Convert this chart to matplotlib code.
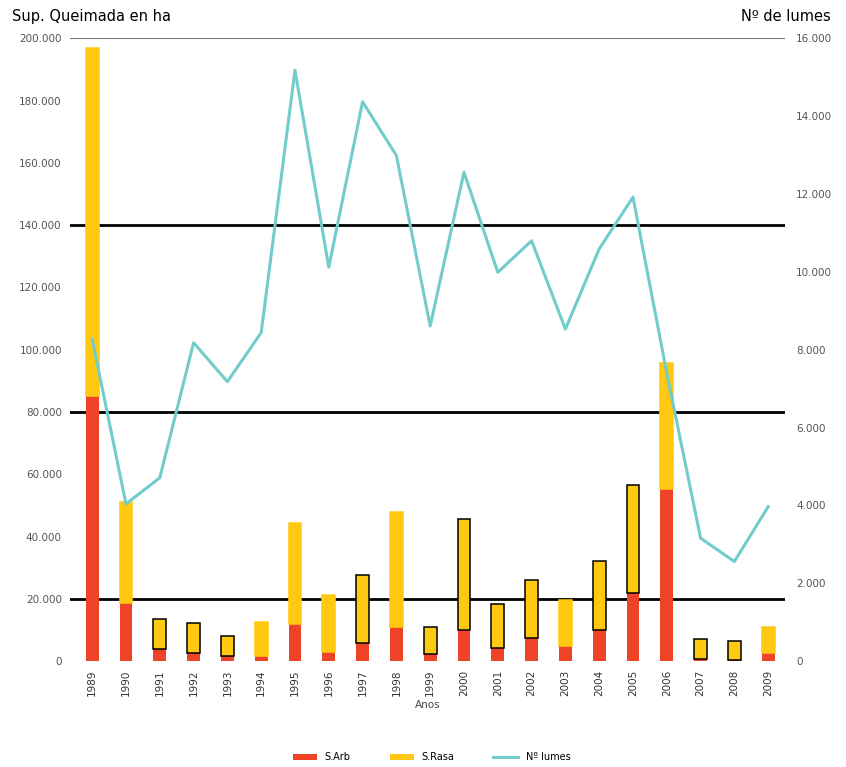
#! /usr/bin/env python3
# -*- coding: utf-8 -*-

## Modules

import matplotlib
matplotlib.use("Agg")
import matplotlib.pyplot as plt
from matplotlib.ticker import FuncFormatter

## Data

years = [str(y) for y in range(1989, 2010)]

# superficie queimada (ha)
sup_arb = [85000, 18600, 4000, 2500, 1600, 1600, 11800, 3100, 5800, 11000, 2300,
           10100, 4100, 7500, 5000, 10100, 22000, 55200, 800, 500, 2700]
sup_total = [197000, 51000, 13400, 12400, 8200, 12500, 44400, 21200, 27800, 47800, 10900,
             45700, 18300, 26100, 19700, 32100, 56700, 95800, 7200, 6400, 11000]
sup_rasa = [t - a for t, a in zip(sup_total, sup_arb)]

# numero de lumes
lumes = [8270, 4040, 4710, 8180, 7180, 8440, 15180, 10120, 14370, 12990, 8610,
         12560, 9990, 10800, 8530, 10590, 11920, 7400, 3160, 2560, 3970]

# barras con bordo negro no orixinal
outlined = ["1991", "1992", "1993", "1997", "1999", "2000", "2001", "2002",
            "2004", "2005", "2007", "2008"]

left_ticks = list(range(0, 200001, 20000))
right_ticks = list(range(0, 16001, 2000))
grid_lines = [20000, 80000, 140000]

RED = "#EE4326"
YELLOW = "#FFC912"
TEAL = "#72CCCC"


def miles(v, pos=None):
    return "{:,.0f}".format(v).replace(",", ".")


## Main

def main():
    fig = plt.figure(figsize=(8.46, 7.67), dpi=100)
    ax = fig.add_axes([0.083, 0.138, 0.845, 0.812])
    ax2 = ax.twinx()

    x = list(range(len(years)))
    w = 0.38

    for g in grid_lines:
        ax.axhline(g, color="black", lw=2, zorder=1)
    ax.axhline(200000, color="#777777", lw=1.5, zorder=1)

    ax.bar(x, sup_arb, width=w, color=RED, zorder=2, label="S.Arb")
    edges = ["black" if y in outlined else YELLOW for y in years]
    ax.bar(x, sup_rasa, width=w, bottom=sup_arb, color=YELLOW, zorder=2,
           label="S.Rasa")
    ax.bar(x, sup_rasa, width=w, bottom=sup_arb, facecolor="none",
           edgecolor=edges, linewidth=1.1, zorder=3)

    ax2.plot(x, lumes, color=TEAL, lw=2.2, zorder=4, label="Nº lumes")

    ax.set_xlim(-0.65, 20.5)
    ax.set_ylim(0, 200000)
    ax2.set_ylim(0, 16000)

    ax.set_yticks(left_ticks)
    ax2.set_yticks(right_ticks)
    ax.yaxis.set_major_formatter(FuncFormatter(miles))
    ax2.yaxis.set_major_formatter(FuncFormatter(miles))
    ax.set_xticks(x)
    ax.set_xticklabels(years, rotation=90, fontsize=7.5, color="#333333")

    ax.tick_params(axis="y", length=0, labelsize=7.5, labelcolor="#555555", pad=6)
    ax2.tick_params(axis="y", length=0, labelsize=7.5, labelcolor="#555555", pad=8)
    ax.tick_params(axis="x", length=0, pad=6)

    for a in (ax, ax2):
        for s in a.spines.values():
            s.set_visible(False)

    ax.set_xlabel("Anos", fontsize=7.5, color="#444444", labelpad=3)

    fig.text(0.014, 0.978, "Sup. Queimada en ha", fontsize=10.5, va="center",
             ha="left")
    fig.text(0.982, 0.978, "Nº de lumes", fontsize=10.5, va="center", ha="right")

    h1, l1 = ax.get_legend_handles_labels()
    h2, l2 = ax2.get_legend_handles_labels()
    fig.legend(h1 + h2, l1 + l2, loc="center", bbox_to_anchor=(0.51, 0.013),
               ncol=3, frameon=False, fontsize=7, handlelength=2.5,
               columnspacing=4, handleheight=0.6)

    fig.savefig("out.png", dpi=100)


## Run

if __name__ == "__main__":
    main()
